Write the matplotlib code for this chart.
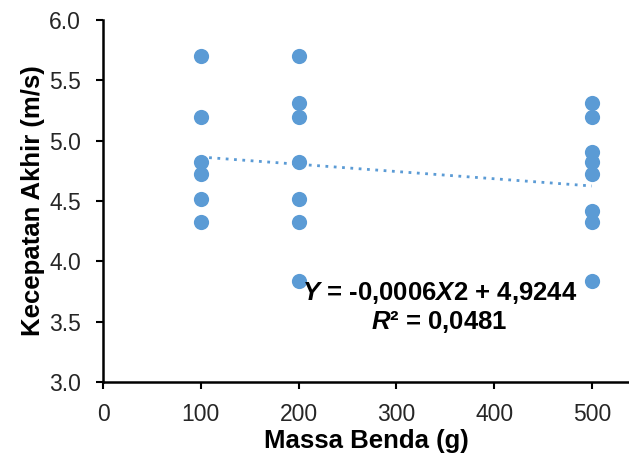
import matplotlib
matplotlib.use('Agg')
import matplotlib.pyplot as plt
import numpy as np

plt.rcParams['font.family'] = 'Liberation Sans'
plt.rcParams['mathtext.fontset'] = 'custom'
plt.rcParams['mathtext.rm'] = 'Liberation Sans:bold'
plt.rcParams['mathtext.it'] = 'Liberation Sans:bold:italic'

# massa (g) and kecepatan akhir (m/s)
mass = [100, 100, 100, 100, 100, 100,
        200, 200, 200, 200, 200, 200, 200,
        500, 500, 500, 500, 500, 500, 500, 500]
speed = [5.70, 5.20, 4.82, 4.72, 4.52, 4.33,
         5.70, 5.31, 5.20, 4.82, 4.52, 4.33, 3.84,
         5.31, 5.20, 4.91, 4.82, 4.72, 4.42, 4.33, 3.84]

slope = -0.0006
intercept = 4.9244
trend_x = [100, 500]

color = '#5B9BD5'

fig = plt.figure(figsize=(6.29, 4.61), dpi=100)
ax = fig.add_axes([0.1638, 0.1714, 0.8362, 0.7852])

ax.scatter(mass, speed, s=120, color=color, zorder=3, linewidths=0)
tx = np.array(trend_x)
ax.plot(tx, slope * tx + intercept, color=color, linestyle=(0, (1, 2)),
        linewidth=2, zorder=2)

ax.set_xlim(0, 538)
ax.set_ylim(3.0, 6.0)
ax.set_xticks([0, 100, 200, 300, 400, 500])
ax.set_yticks(np.arange(3.0, 6.01, 0.5))
ax.yaxis.set_major_formatter(matplotlib.ticker.FormatStrFormatter('%.1f'))
ax.tick_params(labelsize=16.5, length=5, width=1.5, direction='out',
               labelcolor='#262626')
ax.tick_params(axis='y', pad=11)
ax.tick_params(axis='x', pad=10)
ax.spines['top'].set_visible(False)
ax.spines['right'].set_visible(False)
ax.spines['left'].set_linewidth(1.8)
ax.spines['bottom'].set_linewidth(1.8)

ax.set_xlabel('Massa Benda (g)', fontsize=18.5, fontweight='bold', labelpad=2)
ax.set_ylabel('Kecepatan Akhir (m/s)', fontsize=18.5, fontweight='bold', labelpad=3)

ax.text(344, 3.74, r'$Y$ = -0,0006$X$2 + 4,9244', fontsize=18.5, fontweight='bold',
        ha='center', va='center')
ax.text(344, 3.50, r'$R$² = 0,0481', fontsize=18.5, fontweight='bold',
        ha='center', va='center')

fig.savefig('out.png', dpi=100)
